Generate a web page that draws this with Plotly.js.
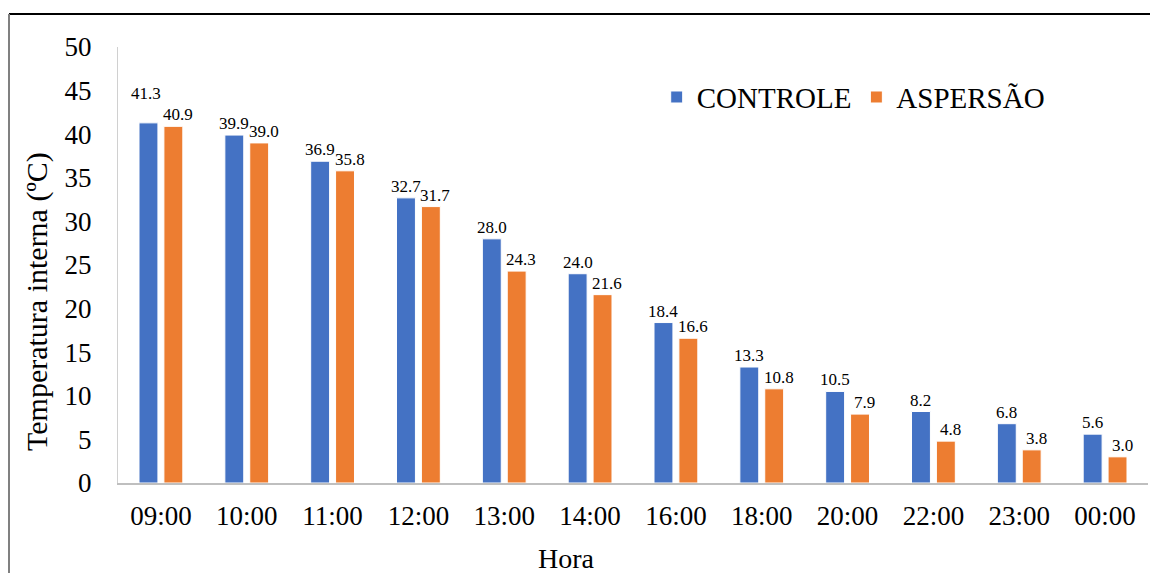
<!DOCTYPE html>
<html>
<head>
<meta charset="utf-8">
<script src="https://cdn.plot.ly/plotly-3.0.1.min.js"></script>
<style>
html,body{margin:0;padding:0;background:#fff;}
#chart{width:1150px;height:573px;}
</style>
</head>
<body>
<div id="chart"></div>
<script>
var categories = ["09:00","10:00","11:00","12:00","13:00","14:00","16:00","18:00","20:00","22:00","23:00","00:00"];
var controle = [41.3,39.9,36.9,32.7,28.0,24.0,18.4,13.3,10.5,8.2,6.8,5.6];
var aspersao = [40.9,39.0,35.8,31.7,24.3,21.6,16.6,10.8,7.9,4.8,3.8,3.0];
var seriesNames = ["CONTROLE","ASPERSÃO"];
var yTickVals = [0,5,10,15,20,25,30,35,40,45,50];

var font = "Liberation Serif";
var colors = ["#4472C4", "#ED7D31"];
var series = [controle, aspersao];

var data = series.map(function(vals, k){
  return {
    type: "bar", name: seriesNames[k], x: categories, y: vals,
    marker: {color: colors[k], line: {color: "#ffffff", width: 1}},
    hoverinfo: "skip"
  };
});

// value labels placed through the axes (x = category, y = value)
var annotations = [];
var labelShift = [-12.5, 17];
categories.forEach(function(cat, i){
  series.forEach(function(vals, k){
    var other = series[1 - k][i];
    // raise the first series' label when the two labels would collide
    var raise = (k === 0 && Math.abs(vals[i] - other) < 0.6) ? 18 : 0;
    annotations.push({
      x: cat, y: vals[i], xref: "x", yref: "y",
      text: vals[i].toFixed(1), showarrow: false,
      xanchor: "center", yanchor: "bottom",
      xshift: labelShift[k] - (raise ? 2 : 0), yshift: raise,
      font: {family: font, size: 17, color: "#000"}
    });
  });
});
annotations.push(
  {text: "Temperatura interna (ºC)", xref: "paper", yref: "paper",
   x: (37-118)/1030, y: 1-(302-47)/436, textangle: -90, showarrow: false,
   xanchor: "center", yanchor: "middle", font: {family: font, size: 30, color: "#000"}},
  {text: "Hora", xref: "paper", yref: "paper",
   x: (566-118)/1030, y: 1-(558-47)/436, showarrow: false,
   xanchor: "center", yanchor: "middle", font: {family: font, size: 28, color: "#000"}}
);

var layout = {
  width: 1150, height: 573,
  margin: {l: 118, r: 2, t: 47, b: 90},
  paper_bgcolor: "#fff", plot_bgcolor: "#fff",
  barmode: "group", bargap: 0.42, bargroupgap: 0.24,
  font: {family: font, color: "#000"},
  showlegend: true,
  legend: {orientation: "h", x: 0.523, y: 0.885, xanchor: "left", yanchor: "middle",
           font: {family: font, size: 29, color: "#000000"}, itemgap: 14, bgcolor: "rgba(0,0,0,0)"},
  xaxis: {type: "category", showline: true, linecolor: "#bfbfbf", linewidth: 2,
          ticks: "", showgrid: false, ticklabelstandoff: 8,
          tickfont: {family: font, size: 27, color: "#000"}},
  yaxis: {range: [0, 50], tickvals: yTickVals, showline: true, linecolor: "#d0d0d0", linewidth: 1,
          ticks: "", showgrid: false, zeroline: false, ticklabelstandoff: 20,
          tickfont: {family: font, size: 27, color: "#000"}},
  annotations: annotations,
  shapes: [
    {type: "line", xref: "paper", yref: "paper", x0: (9-118)/1030, x1: (1152-118)/1030,
     y0: 1+(47-14)/436, y1: 1+(47-14)/436, line: {color: "#000", width: 2}},
    {type: "line", xref: "paper", yref: "paper", x0: (9-118)/1030, x1: (9-118)/1030,
     y0: 1+(47-14)/436, y1: 1-(575-47)/436, line: {color: "#808080", width: 2}}
  ]
};
Plotly.newPlot("chart", data, layout, {displayModeBar: false, staticPlot: true});
</script>
</body>
</html>
